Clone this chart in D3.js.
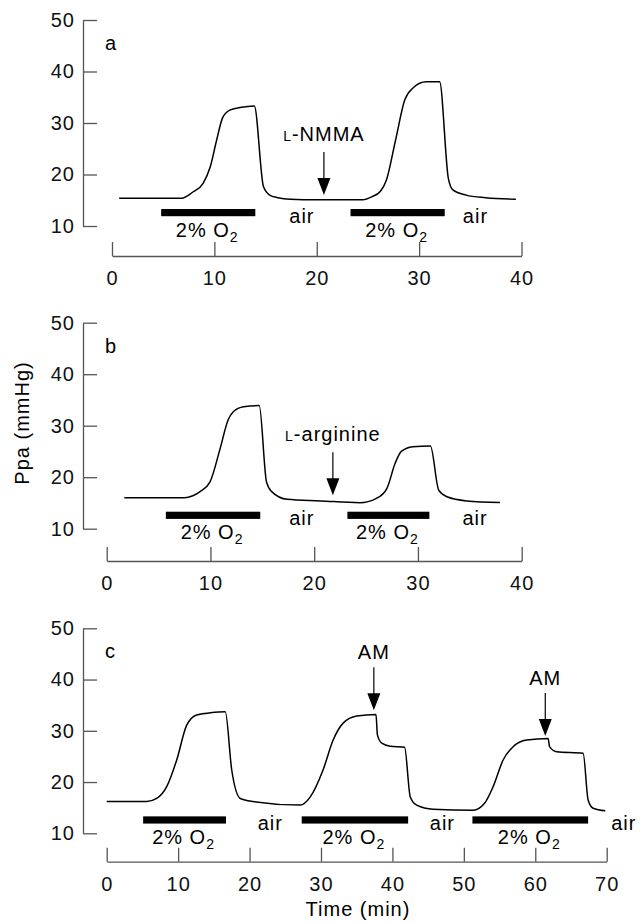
<!DOCTYPE html>
<html>
<head>
<meta charset="utf-8">
<script src="https://cdn.jsdelivr.net/npm/d3@7"></script>
<style>
  body { margin: 0; background: #fff; }
  text { font-family: "Liberation Sans", Arial, sans-serif; letter-spacing: 1px; }
</style>
</head>
<body>
<script>
const width = 640
const height = 922

// panel a: L-NMMA
const timeA = [0.7, 6.8, 7.9, 8.9, 9.6, 10.2, 10.8, 11.5, 12.5, 13.9, 14.8, 15.4, 16.2, 17.4, 20, 24.5, 25.4, 26.2, 26.8, 27.7, 28.6, 29.4, 30.7, 32.0, 32.85, 33.3, 34.6, 36.5, 39.45]
const ppaA = [15.4, 15.4, 16.6, 18.3, 21.5, 26.5, 31.0, 32.5, 33.0, 33.3, 17.6, 16.0, 15.5, 15.2, 15.1, 15.1, 15.7, 16.7, 18.9, 26.7, 34.5, 36.8, 38.0, 38.0, 19.3, 17.0, 16.0, 15.5, 15.2]
const o2A = [[4.8, 14.0], [23.3, 32.5]]
const airA = [18.55, 35.5]
const arrowsA = [[20.7, 16.0, "NMMA"]]

// panel b: L-arginine
const timeB = [1.7, 7.5, 8.3, 9.0, 9.96, 10.9, 11.7, 12.2, 13.2, 14.7, 15.4, 15.9, 17.4, 20.6, 24.4, 26.0, 27.0, 27.8, 28.4, 29.5, 31.2, 32.0, 32.8, 34.7, 37.9]
const ppaB = [16.0, 16.0, 16.4, 17.2, 19.1, 25.3, 31.1, 32.7, 33.7, 33.9, 19.1, 17.2, 15.7, 15.4, 15.05, 15.9, 17.8, 22.7, 25.0, 25.9, 26.05, 17.5, 16.2, 15.4, 15.1]
const o2B = [[5.7, 14.8], [23.2, 31.1]]
const airB = [18.8, 35.5]
const arrowsB = [[21.8, 16.5, "arginine"]]

// panel c: AM
const timeC = [0, 5.6, 7.0, 8.4, 9.8, 11.2, 12.6, 14.5, 16.6, 17.5, 18.7, 20.5, 27.1, 28.5, 30.3, 31.7, 33.1, 35.0, 37.7, 37.9, 38.5, 39.7, 41.7, 42.5, 43.4, 45.7, 51.3, 52.9, 54.1, 55.5, 56.9, 58.8, 61.8, 62.0, 63.0, 66.7, 67.4, 68.1, 69.8]
const ppaC = [16.2, 16.2, 16.8, 19.1, 24.3, 31.1, 33.1, 33.5, 33.7, 22.4, 16.8, 16.2, 15.5, 17.1, 22.4, 28.2, 31.5, 32.9, 33.2, 29.2, 27.6, 27.0, 26.8, 17.1, 15.5, 14.7, 14.5, 15.85, 19.1, 24.3, 26.9, 28.2, 28.5, 26.9, 25.9, 25.6, 16.5, 14.9, 14.4]
const o2C = [[5.1, 16.7], [27.3, 42.2], [51.2, 67.4]]
const airC = [22.9, 47.0, 72.4]
const arrowsC = [[37.4, 34.0, "AM"], [61.4, 29.0, "AM"]]

const yTicks = [10, 20, 30, 40, 50]
const xTicksAB = [0, 10, 20, 30, 40]
const xTicksC = [0, 10, 20, 30, 40, 50, 60, 70]

const axisColor = "#555"
const fs = 20
const fsSmall = 14

const svg = d3.select("body").append("svg")
    .attr("width", width)
    .attr("height", height)
    .attr("viewBox", [0, 0, width, height]);

svg.append("rect").attr("width", width).attr("height", height).attr("fill", "#fff");

function styleAxis(a) {
  a.selectAll("line,path").attr("stroke", axisColor).attr("stroke-width", 1.3);
  a.selectAll("text").attr("font-size", fs).attr("fill", "#111")
      .attr("font-family", "Liberation Sans, Arial, sans-serif");
}

function panel(p) {
  const x = d3.scaleLinear().domain(p.xDomain).range(p.xRange);
  const y = d3.scaleLinear().domain([10, 50]).range(p.yRange);
  const g = svg.append("g");

  // y axis, ticks pointing into the plot
  g.append("g")
      .attr("transform", `translate(83,0)`)
      .call(d3.axisLeft(y).tickValues(yTicks).tickSizeInner(-14).tickSizeOuter(0).tickPadding(8))
      .call(styleAxis);

  // x axis sits below the plot, ticks pointing up
  g.append("g")
      .attr("transform", `translate(0,${p.xAxisY})`)
      .call(d3.axisBottom(x).tickValues(p.xTicks).tickSizeInner(-14).tickSizeOuter(0).tickPadding(15))
      .call(styleAxis);

  g.append("text")
      .attr("x", 105).attr("y", y(50) + 30)
      .attr("font-size", fs).text(p.letter);

  // pressure trace
  const pts = p.time.map((t, i) => [t, p.ppa[i]]);
  g.append("path")
      .datum(pts)
      .attr("fill", "none")
      .attr("stroke", "#000")
      .attr("stroke-width", 1.5)
      .attr("d", d3.line().x(d => x(d[0])).y(d => y(d[1])).curve(d3.curveMonotoneX));

  // hypoxia bars
  const barMid = y(12.6);
  g.selectAll(".bar").data(p.o2).join("rect")
      .attr("x", d => x(d[0]))
      .attr("width", d => x(d[1]) - x(d[0]))
      .attr("y", barMid - 3.6)
      .attr("height", 7.2)
      .attr("fill", "#000");

  const o2lab = g.selectAll(".o2lab").data(p.o2).join("text")
      .attr("x", d => (x(d[0]) + x(d[1])) / 2 - 1)
      .attr("y", barMid + 24)
      .attr("text-anchor", "middle")
      .attr("font-size", fs);
  o2lab.append("tspan").text("2% O");
  o2lab.append("tspan").attr("font-size", fsSmall).attr("dy", 5).text("2");

  g.selectAll(".air").data(p.air).join("text")
      .attr("x", d => x(d))
      .attr("y", barMid + 10)
      .attr("text-anchor", "middle")
      .attr("font-size", fs)
      .text("air");

  // drug arrows
  p.arrows.forEach(([t, v, label]) => {
    const ax = x(t), tip = y(v);
    g.append("line")
        .attr("x1", ax).attr("x2", ax)
        .attr("y1", tip - 43).attr("y2", tip - 14)
        .attr("stroke", "#000").attr("stroke-width", 1.2);
    g.append("path")
        .attr("d", `M${ax - 6.5},${tip - 17}L${ax + 6.5},${tip - 17}L${ax},${tip}Z`)
        .attr("fill", "#000");
    const tx = g.append("text")
        .attr("x", ax)
        .attr("text-anchor", "middle")
        .attr("font-size", fs);
    if (label === "AM") {
      tx.attr("y", tip - 51).text("AM");
    } else {
      tx.attr("y", tip - 54);
      tx.append("tspan").attr("font-size", fsSmall).text("L");
      tx.append("tspan").text("-" + label);
    }
  });
}

panel({letter: "a", time: timeA, ppa: ppaA, o2: o2A, air: airA, arrows: arrowsA,
       xDomain: [0, 40], xRange: [112, 521.5], yRange: [226, 20], xAxisY: 256, xTicks: xTicksAB});
panel({letter: "b", time: timeB, ppa: ppaB, o2: o2B, air: airB, arrows: arrowsB,
       xDomain: [0, 40], xRange: [106.7, 521.7], yRange: [528.7, 322.7], xAxisY: 561, xTicks: xTicksAB});
panel({letter: "c", time: timeC, ppa: ppaC, o2: o2C, air: airC, arrows: arrowsC,
       xDomain: [0, 70], xRange: [106.7, 606.7], yRange: [833.3, 628.3], xAxisY: 861.7, xTicks: xTicksC});

svg.append("text")
    .attr("transform", "translate(29,423) rotate(-90)")
    .attr("text-anchor", "middle")
    .attr("font-size", fs)
    .text("Ppa (mmHg)");

svg.append("text")
    .attr("x", 358).attr("y", 916)
    .attr("text-anchor", "middle")
    .attr("font-size", fs)
    .text("Time (min)");
</script>
</body>
</html>
